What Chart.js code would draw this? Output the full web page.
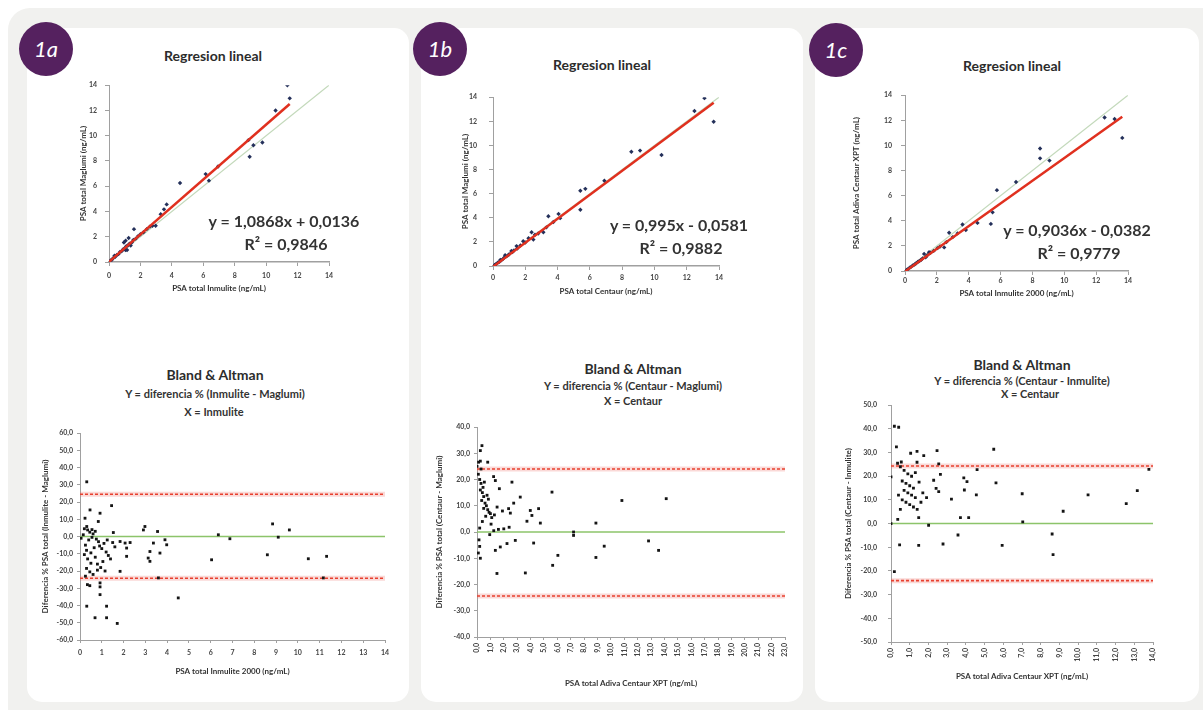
<!DOCTYPE html>
<html>
<head>
<meta charset="utf-8">
<script src="https://cdn.jsdelivr.net/npm/chart.js@4.4.0/dist/chart.umd.min.js"></script>
<style>
  body { margin:0; width:1203px; height:710px; background:#ffffff; position:relative; overflow:hidden; font-family:Lato, "Open Sans", sans-serif; color:#333; }
  .outer { position:absolute; left:8px; top:8px; width:1195px; height:702px; background:#f1f1ef; border-radius:22px 0 0 0; }
  .card { position:absolute; top:28px; height:674px; background:#fff; border-radius:15px; }
  .badge { position:absolute; width:54px; height:54px; margin:-27px 0 0 -27px; border-radius:50%; background:#55215f; color:#fff;
           font-style:italic; font-size:22px; line-height:54px; text-align:center; }
  .box { position:absolute; }
  .txt { position:absolute; transform:translate(-50%,-50%); white-space:nowrap; font-weight:bold; }
  .t1 { font-size:14px; color:#2c2c2c; }
  .t2 { font-size:11px; color:#333; }
  .eq { font-size:16px; color:#333; }
</style>
</head>
<body>
<div class="outer"></div>
<div class="card" style="left:27px;width:382px"></div>
<div class="card" style="left:421px;width:382px"></div>
<div class="card" style="left:815px;width:384px"></div>
<div class="badge" style="left:46px;top:49px">1a</div>
<div class="badge" style="left:440px;top:49px">1b</div>
<div class="badge" style="left:836px;top:50px">1c</div>

<script>
// ---------- Regresion lineal data ----------
// 1a: Inmulite (x) vs Maglumi (y)
const regA_x = [0.1,0.2,0.3,0.35,0.4,0.5,0.6,0.7,0.8,0.9,0.95,1.0,1.05,1.06,1.1,1.15,1.2,1.25,1.3,1.38,1.45,1.55,1.59,1.7,1.85,2.0,2.2,2.4,2.6,2.76,2.97,3.29,3.5,3.67,4.52,6.15,6.36,6.94,8.87,8.95,9.19,9.76,10.6,11.35,11.5];
const regA_y = [0.12,0.2,0.35,0.5,0.42,0.55,0.62,0.8,0.85,1.0,1.55,1.1,0.95,1.69,1.25,0.95,1.3,1.9,1.45,1.3,1.55,1.75,2.6,1.85,2.05,2.2,2.35,2.6,2.8,2.87,2.87,3.78,4.17,4.56,6.26,6.96,6.44,7.56,9.65,8.34,9.25,9.46,12.0,14.0,12.96];
const regA_fit = [1.0868, 0.0136, 0.9846];   // slope, intercept, R2

// 1b: Centaur (x) vs Maglumi (y)
const regB_x = [0.1,0.2,0.3,0.4,0.45,0.5,0.6,0.7,0.75,0.8,0.9,1.0,1.14,1.2,1.3,1.46,1.5,1.7,1.87,2.0,2.2,2.39,2.5,2.6,2.8,3.12,3.3,3.43,3.74,4.06,4.16,5.41,5.41,5.72,6.9,8.57,9.11,10.44,12.48,13.1,13.67];
const regB_y = [0.08,0.18,0.28,0.35,0.5,0.48,0.55,0.7,0.9,0.78,0.86,0.98,1.25,1.15,1.3,1.65,1.45,1.7,2.05,1.95,2.3,2.8,2.19,2.59,2.7,2.8,3.2,4.13,3.65,4.32,3.97,6.24,4.67,6.4,7.07,9.47,9.57,9.2,12.85,13.92,11.97];
const regB_fit = [0.995, -0.0581, 0.9882];

// 1c: Inmulite 2000 (x) vs Centaur XPT (y)
const regC_x = [0.1,0.2,0.3,0.4,0.5,0.6,0.7,0.8,0.9,1.0,1.1,1.2,1.3,1.4,1.51,1.6,1.8,2.04,2.2,2.46,2.6,2.77,3.0,3.3,3.61,3.82,4.55,5.39,5.5,5.77,6.97,8.48,8.48,9.07,12.53,13.16,13.64];
const regC_y = [0.09,0.17,0.27,0.35,0.45,0.52,0.62,0.72,0.8,0.88,1.0,1.36,1.1,1.25,1.49,1.45,1.6,1.82,1.95,1.88,2.3,3.05,2.7,3.0,3.7,3.26,3.83,3.75,4.67,6.44,7.09,9.75,8.97,8.79,12.23,12.1,10.6];
const regC_fit = [0.9036, -0.0382, 0.9779];

const regRange = [0, 14, 2];   // min, max, step for both axes

// ---------- Bland & Altman data ----------
const baA_x = [0.31,1.45,0.46,0.92,0.23,0.84,0.31,2.98,2.91,3.56,1.53,6.35,6.88,8.84,9.1,9.61,6.04,8.6,10.48,11.32,11.17,3.6,4.51,3.9,3.98,3.37,3.21,3.67,3.13,3.21,1.84,2.07,2.3,2.14,2.14,1.84,0.34,0.45,0.92,0.92,0.92,0.31,1.22,0.69,1.22,1.71,
               0.2,0.35,0.45,0.55,0.6,0.7,0.75,0.85,0.4,0.25,0.3,0.5,0.65,0.9,1.0,1.1,1.2,1.3,1.4,0.2,0.35,0.5,0.7,0.8,0.95,1.05,0.3,0.45,0.6,0.25,1.15,1.5,1.6,0.15,0.55,0.05,0.8,1.25];
const baA_y = [31.7,17.9,15.4,13.5,10.6,8.7,5.8,5.8,3.8,2.9,2.3,1.0,-1.3,7.3,-0.4,3.8,-13.5,-10.6,-12.9,-11.5,-24,-24,-35.6,-1.9,-4.8,-3.8,-8.7,-9.6,-12.5,-14.4,-2.9,-3.8,-3.5,-6.7,-11.5,-20.2,-27.9,-28.5,-26.9,-29.2,-33.7,-40.4,-40.4,-47.1,-47.1,-50.4,
               4.5,3.8,2.5,4.0,1.5,3.0,-1.5,-3.0,-2.0,-5.0,-8.0,-9.5,-6.5,-5.5,-7.0,-4.0,-9.0,-11.0,-13.0,-10.5,-13.0,-15.5,-12.0,-16.0,-18.0,-14.5,-18.5,-20.5,-22.0,-23.0,-20.0,-3.5,-6.0,1.0,-0.5,-1.0,-19.5,-2.0];
const baA_lines = [0, 24.5, -24.2];   // mean, upper and lower limit
const baA_xRange = [0, 14, 1];
const baA_yRange = [-60, 60, 10];

const baB_x = [0.37,0.25,0.12,0.0,0.25,0.8,1.24,1.37,1.67,2.61,3.23,5.6,10.82,14.13,3.98,4.6,4.1,3.73,4.73,2.74,2.36,2.49,8.88,7.21,7.21,12.81,13.56,9.5,8.88,6.04,5.65,4.23,3.61,1.49,1.37,1.74,2.24,2.86,
               0.1,0.2,0.3,0.25,0.4,0.5,0.35,0.6,0.7,0.5,0.8,0.9,1.0,0.65,1.1,1.3,0.45,0.55,0.75,0.85,1.5,1.9,0.3,1.05,0.4,0.2,0.95,1.25,1.6,2.0,2.4,0.15,0.2,0.1,0.25];
const baB_y = [32.9,31,26.6,25,27,26.6,21.1,19.6,16.5,19,13.3,15.2,12,12.7,8.2,8.9,6.3,4.1,3.4,11,8.9,7.2,3.4,0,-1.3,-3.4,-7,-5.4,-9.7,-8.9,-12.7,-4.2,-15.6,-15.8,-7,-5.7,-4.4,-3.2,
               22,20,18.5,16,15,13.5,12,11,10,9,8.5,7.5,7,6,5.5,6.5,17,19,14,12.5,9.5,8,24,3,4,1.5,-1,0.5,1,1.2,1.8,-3,-5.5,-8,-10];
const baB_lines = [0, 24.0, -24.4];
const baB_xRange = [0, 23, 1];
const baB_yRange = [-40, 40, 10];

const baC_x = [0.18,0.41,0.29,1.05,1.39,1.75,2.46,5.49,1.39,2.55,4.6,13.78,2.64,2.28,0,3.89,4.06,5.61,3.92,2.41,2.55,4.56,7.01,10.53,13.16,12.57,9.2,3.23,0.36,1.48,2.01,3.71,4.15,7.04,0,3.58,8.61,0.46,1.48,2.78,5.94,8.66,0.18,
               0.5,0.7,0.9,1.1,0.6,0.8,1.0,1.2,0.7,0.9,1.1,1.3,0.6,0.8,1.0,1.2,1.4,0.5,1.5,1.7,1.9,0.4,1.3,1.6,0.35,0.55];
const baC_y = [41.1,40.7,32.4,29.7,30.5,28.7,30.8,31.4,25.9,25.2,22.8,22.9,20.8,18.3,19.7,19.3,17.7,17.2,14.2,14.9,13.5,12.1,12.6,12.1,13.9,8.4,5.2,10.3,1.8,2.5,-0.7,2.5,2.5,0.7,0,-4.8,-4.4,-9,-9.2,-8.6,-9.2,-13.1,-20.3,
               24,22.5,21,20,18,17,16,15,14,13,12,11,10,9,8,7,6,6,17.5,13,11,12,21.5,9,25.5,26];
const baC_lines = [0, 24.3, -24.1];
const baC_xRange = [0, 14, 1];
const baC_yRange = [-50, 50, 10];

// ---------- helpers ----------
const comma = v => String(v).replace('.', ',');
const oneDec = v => v.toFixed(1).replace('.', ',');
const tickFont = { family: 'Lato', size: 7, weight: 'bold' };
const axTitleFont = { family: 'Lato', size: 8, weight: 'bold' };

function pts(xs, ys) { return xs.map((x, i) => ({ x: x, y: ys[i] })); }

function text(str, x, y, cls) {
  const d = document.createElement('div');
  d.className = 'txt ' + cls;
  d.style.left = x + 'px';
  d.style.top = y + 'px';
  d.textContent = str;
  document.body.appendChild(d);
}

function axis(range, title, o) {
  return {
    type: 'linear', min: range[0], max: range[1],
    ticks: { stepSize: range[2], autoSkip: false, padding: o.pad, font: tickFont, color: '#444',
             callback: o.fmt || (v => v), minRotation: o.rot || 0, maxRotation: o.rot || 0 },
    grid: { drawOnChartArea: false, tickLength: o.tl || 4, color: '#a0a0a0' },
    border: { color: '#a0a0a0', width: o.bw || 1 },
    title: { display: true, text: title, font: axTitleFont, color: '#333', padding: 0 },
    afterFit: s => { if (s.isHorizontal()) s.height = o.size; else s.width = o.size; }
  };
}

function plot(g, datasets, xs, ys) {
  const div = document.createElement('div');
  div.className = 'box';
  const left = g.L - g.yW, top = g.T - g.pt;
  div.style.left = left + 'px';
  div.style.top = top + 'px';
  div.style.width = (g.R - g.L + g.yW + g.pr) + 'px';
  div.style.height = (g.B - g.T + g.pt + g.xH) + 'px';
  const cv = document.createElement('canvas');
  div.appendChild(cv);
  document.body.appendChild(div);
  new Chart(cv, {
    type: 'scatter',
    data: { datasets: datasets },
    options: {
      responsive: true, maintainAspectRatio: false, animation: false,
      layout: { autoPadding: false, padding: { top: g.pt, right: g.pr, left: 0, bottom: 0 } },
      plugins: { legend: { display: false }, tooltip: { enabled: false } },
      scales: { x: xs, y: ys }
    }
  });
}

// regression chart: points, Excel trendline (red) and identity line (light green)
function regression(g, xs, ys, fit, xTitle, yTitle, yTickPad, xTickPad) {
  const xMax = Math.max.apply(null, xs);
  const trend = [regRange[0], xMax].map(x => ({ x: x, y: fit[0] * x + fit[1] }));
  const ident = [regRange[0], regRange[1]].map(v => ({ x: v, y: v }));
  plot(g, [
    { data: trend, showLine: true, borderColor: '#e0301f', borderWidth: 2.5, pointRadius: 0 },
    { data: pts(xs, ys), backgroundColor: '#24305a', borderColor: '#24305a', pointStyle: 'rectRot', pointRadius: 2.2, borderWidth: 0 },
    { data: ident, showLine: true, borderColor: '#c3d9bb', borderWidth: 1.2, pointRadius: 0 }
  ],
  axis(regRange, xTitle, { size: g.xH, pad: xTickPad, bw: 1.5 }),
  axis(regRange, yTitle, { size: g.yW, pad: yTickPad }));
}

function blandAltman(g, xs, ys, lines, xr, yr, xTitle, yTitle, yTickPad, xTickPad, rot) {
  const span = y => [xr[0], xr[1]].map(x => ({ x: x, y: y }));
  const ds = [{ data: pts(xs, ys), backgroundColor: '#141414', borderColor: '#141414', pointStyle: 'rect', pointRadius: 2, borderWidth: 0 }];
  ds.push({ data: span(lines[0]), showLine: true, borderColor: '#8cc46a', borderWidth: 1.5, pointRadius: 0 });
  [lines[1], lines[2]].forEach(y => {
    ds.push({ data: span(y), showLine: true, borderColor: '#e8402f', borderWidth: 1.6, borderDash: [3, 2], pointRadius: 0 });
    ds.push({ data: span(y), showLine: true, borderColor: 'rgba(238,120,110,0.28)', borderWidth: 5, pointRadius: 0 });
  });
  plot(g, ds,
    axis(xr, xTitle, { size: g.xH, pad: xTickPad, tl: 3, rot: rot, fmt: rot ? oneDec : (v => v) }),
    axis(yr, yTitle, { size: g.yW, pad: yTickPad, tl: 3, fmt: oneDec }));
}

function equation(fit, x, y) {
  const sign = fit[1] < 0 ? ' - ' : ' + ';
  text('y = ' + comma(fit[0]) + 'x' + sign + comma(Math.abs(fit[1])), x, y, 'eq');
  text('R\u00b2 = ' + comma(fit[2]), x + (y > 0 ? 2 : 0), y + 23, 'eq');
}

// ---------- panel 1a ----------
text('Regresion lineal', 213, 55, 't1');
regression({ L: 109, T: 83, R: 329, B: 262, yW: 30, xH: 31, pt: 10, pr: 14 },
  regA_x, regA_y, regA_fit, 'PSA total Inmulite (ng/mL)', 'PSA total Maglumi (ng/mL)', 8, 6);
equation(regA_fit, 284, 220);

text('Bland & Altman', 215, 374, 't1');
text('Y = diferencia % (Inmulite - Maglumi)', 215, 393, 't2');
text('X = Inmulite', 214, 411, 't2');
blandAltman({ L: 80, T: 433, R: 385, B: 640, yW: 39, xH: 36, pt: 10, pr: 14 },
  baA_x, baA_y, baA_lines, baA_xRange, baA_yRange,
  'PSA total Inmulite 2000 (ng/mL)', 'Diferencia % PSA total (Inmulite - Maglumi)', 4, 6, 0);

// ---------- panel 1b ----------
text('Regresion lineal', 602, 64, 't1');
regression({ L: 493, T: 91, R: 719, B: 266, yW: 32, xH: 30, pt: 10, pr: 14 },
  regB_x, regB_y, regB_fit, 'PSA total Centaur (ng/mL)', 'PSA total Maglumi (ng/mL)', 12, 4);
equation(regB_fit, 679, 224);

text('Bland & Altman', 633, 368, 't1');
text('Y = diferencia % (Centaur - Maglumi)', 633, 385, 't2');
text('X = Centaur', 633, 400, 't2');
blandAltman({ L: 477, T: 427, R: 785, B: 637, yW: 42, xH: 51, pt: 10, pr: 12 },
  baB_x, baB_y, baB_lines, baB_xRange, baB_yRange,
  'PSA total Adiva Centaur XPT (ng/mL)', 'Diferencia % PSA total (Centaur - Maglumi)', 4, 3, 90);

// ---------- panel 1c ----------
text('Regresion lineal', 1012, 65, 't1');
regression({ L: 905, T: 92, R: 1128, B: 271, yW: 53, xH: 27, pt: 10, pr: 14 },
  regC_x, regC_y, regC_fit, 'PSA total Inmulite 2000 (ng/mL)', 'PSA total Adiva Centaur XPT (ng/mL)', 9, 2);
equation(regC_fit, 1077, 229);

text('Bland & Altman', 1022, 364, 't1');
text('Y = diferencia % (Centaur - Inmulite)', 1022, 380, 't2');
text('X = Centaur', 1030, 393, 't2');
blandAltman({ L: 891, T: 400, R: 1153, B: 642, yW: 47, xH: 39, pt: 10, pr: 14 },
  baC_x, baC_y, baC_lines, baC_xRange, baC_yRange,
  'PSA total Adiva Centaur XPT (ng/mL)', 'Diferencia % PSA total (Centaur - Inmulite)', 11, 3, 90);
</script>
</body>
</html>
